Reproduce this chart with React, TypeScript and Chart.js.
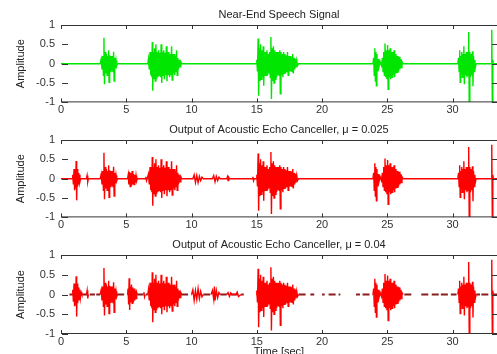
import React, { useEffect, useRef } from "react";
import { Chart, registerables } from "chart.js";

Chart.register(...registerables);

// ---------- axes / text ----------
const X_MAX = 33.4;
const X_STEP = 5;
const Y_STEP = 0.5;
const titles = [
  "Near-End Speech Signal",
  "Output of Acoustic Echo Canceller, \u03bc = 0.025",
  "Output of Acoustic Echo Canceller, \u03bc = 0.04",
];
const yLabel = "Amplitude";
const xLabel = "Time [sec]";

// ---------- near-end speech bursts (time [s], amplitude) ----------
const burstA_t = [3.0, 3.08, 3.14, 3.2, 3.25, 3.29, 3.33, 3.38, 3.43, 3.48, 3.53, 3.58, 3.62, 3.65, 3.68, 3.73, 3.78, 3.83, 3.88, 3.93, 3.98, 4.03, 4.07, 4.12, 4.17, 4.22, 4.27, 4.32];
const burstA_v = [0, 0.12, -0.15, 0.2, -0.3, 0.67, -0.53, 0.3, -0.25, 0.25, -0.3, 0.2, -0.2, 0.35, -0.48, 0.22, -0.2, 0.2, -0.18, 0.2, -0.22, 0.31, -0.45, 0.15, -0.12, 0.08, -0.05, 0];

const burstB_t = [6.65, 6.7, 6.76, 6.82, 6.88, 6.93, 6.96, 6.99, 7.03, 7.07, 7.12, 7.17, 7.22, 7.27, 7.32, 7.37, 7.42, 7.47, 7.52, 7.57, 7.62, 7.67, 7.72, 7.77, 7.82, 7.87, 7.92, 7.97, 8.02, 8.07, 8.12, 8.17, 8.22, 8.27, 8.32, 8.37, 8.42, 8.47, 8.52, 8.57, 8.62, 8.67, 8.72, 8.77, 8.81, 8.85, 8.9, 8.95, 9.0, 9.06, 9.12, 9.18, 9.25];
const burstB_v = [0, 0.12, -0.15, 0.3, -0.3, 0.25, -0.35, 0.56, -0.7, 0.3, -0.4, 0.4, -0.45, 0.5, -0.4, 0.3, -0.35, 0.35, -0.3, 0.28, -0.35, 0.5, -0.5, 0.3, -0.3, 0.35, -0.4, 0.28, -0.3, 0.45, -0.45, 0.3, -0.28, 0.3, -0.35, 0.25, -0.3, 0.45, -0.42, 0.25, -0.25, 0.25, -0.3, 0.2, -0.2, 0.35, -0.3, 0.15, -0.15, 0.1, -0.08, 0.05, 0];

const burstC_t = [14.95, 15.0, 15.05, 15.1, 15.14, 15.19, 15.24, 15.29, 15.34, 15.39, 15.44, 15.49, 15.53, 15.58, 15.63, 15.68, 15.73, 15.78, 15.83, 15.88, 15.93, 15.98, 16.03, 16.08, 16.12, 16.17, 16.22, 16.27, 16.32, 16.37, 16.42, 16.47, 16.52, 16.57, 16.62, 16.67, 16.72, 16.76, 16.8, 16.85, 16.9, 16.95, 17.0, 17.05, 17.1, 17.15, 17.2, 17.25, 17.3, 17.35, 17.4, 17.45, 17.5, 17.55, 17.6, 17.65, 17.7, 17.75, 17.8, 17.85, 17.9, 17.95, 18.0, 18.06, 18.12, 18.2];
const burstC_v = [0, 0.1, -0.2, 0.65, -0.83, 0.4, -0.45, 0.5, -0.4, 0.35, -0.35, 0.45, -0.57, 0.3, -0.3, 0.3, -0.3, 0.35, -0.3, 0.25, -0.25, 0.3, -0.35, 0.69, -0.91, 0.4, -0.45, 0.45, -0.5, 0.35, -0.4, 0.3, -0.35, 0.3, -0.3, 0.3, -0.3, 0.35, -0.78, 0.3, -0.3, 0.25, -0.35, 0.3, -0.25, 0.25, -0.25, 0.22, -0.22, 0.3, -0.3, 0.2, -0.2, 0.2, -0.2, 0.18, -0.2, 0.25, -0.25, 0.15, -0.15, 0.12, -0.1, 0.08, -0.05, 0];

const burstD_t = [23.9, 23.95, 24.0, 24.04, 24.08, 24.12, 24.16, 24.2, 24.25, 24.3, 24.36, 24.45, 24.55, 24.62, 24.67, 24.72, 24.77, 24.82, 24.87, 24.92, 24.97, 25.02, 25.06, 25.11, 25.16, 25.21, 25.26, 25.31, 25.36, 25.41, 25.46, 25.51, 25.56, 25.61, 25.66, 25.71, 25.76, 25.81, 25.86, 25.91, 25.96, 26.01, 26.06, 26.12, 26.2];
const burstD_v = [0, 0.15, -0.3, 0.4, -0.45, 0.3, -0.57, 0.25, -0.2, 0.12, -0.08, 0.05, -0.05, 0.15, -0.2, 0.3, -0.3, 0.52, -0.35, 0.35, -0.4, 0.48, -0.66, 0.35, -0.35, 0.4, -0.4, 0.3, -0.35, 0.3, -0.3, 0.35, -0.35, 0.25, -0.25, 0.2, -0.22, 0.2, -0.2, 0.18, -0.15, 0.12, -0.1, 0.05, 0];

const burstE_t = [30.4, 30.45, 30.5, 30.54, 30.58, 30.62, 30.66, 30.7, 30.74, 30.78, 30.82, 30.86, 30.9, 30.95, 31.0, 31.05, 31.1, 31.15, 31.19, 31.23, 31.27, 31.32, 31.37, 31.42, 31.47, 31.52, 31.56, 31.6, 31.65, 31.7, 31.75, 31.8];
const burstE_v = [0, 0.15, -0.2, 0.35, -0.48, 0.2, -0.25, 0.3, -0.35, 0.25, -0.2, 0.45, -0.53, 0.25, -0.3, 0.3, -0.35, 0.3, -0.3, 0.82, -0.97, 0.3, -0.35, 0.25, -0.3, 0.32, -0.58, 0.2, -0.2, 0.1, -0.08, 0];

const burstF_t = [32.95, 33.0, 33.04, 33.08, 33.12];
const burstF_v = [0, 0.88, -1.0, 0.1, 0];

// ---------- residual echo, mu = 0.025 ----------
const res025a_t = [0.85, 0.9, 0.95, 1.0, 1.04, 1.08, 1.12, 1.16, 1.2, 1.24, 1.28, 1.32, 1.36, 1.4, 1.45, 1.5];
const res025a_v = [0, 0.1, -0.15, 0.25, -0.3, 0.2, -0.25, 0.46, -0.56, 0.25, -0.2, 0.15, -0.15, 0.1, -0.08, 0];
const res025b_t = [1.95, 2.0, 2.05, 2.1];
const res025b_v = [0, 0.08, -0.08, 0];
const res025c_t = [5.1, 5.15, 5.2, 5.25, 5.3, 5.35, 5.4, 5.45, 5.5, 5.55, 5.6, 5.65, 5.7, 5.75, 5.8, 5.85];
const res025c_v = [0, 0.1, -0.15, 0.18, -0.2, 0.15, -0.18, 0.2, -0.15, 0.12, -0.15, 0.1, -0.1, 0.08, -0.05, 0];
const res025d_t = [6.45, 6.5, 6.55, 6.6];
const res025d_v = [0, 0.05, -0.05, 0];
const res025e_t = [10.1, 10.2, 10.3, 10.4, 10.5, 10.6, 10.7, 10.8, 10.9];
const res025e_v = [0, 0.1, -0.1, 0.08, -0.1, 0.06, -0.05, 0.04, 0];
const res025f_t = [11.6, 11.7, 11.8, 11.9, 12.0, 12.1, 12.2];
const res025f_v = [0, 0.08, -0.08, 0.06, -0.05, 0.04, 0];
const res025g_t = [12.7, 12.75, 12.8, 12.85, 12.9];
const res025g_v = [0, 0.05, -0.05, 0.03, 0];
const res025h_t = [14.65, 14.7, 14.75, 14.8];
const res025h_v = [0, 0.05, -0.05, 0];

// ---------- residual echo, mu = 0.04 ----------
const res04a_t = [0.85, 0.9, 0.95, 1.0, 1.04, 1.08, 1.12, 1.16, 1.2, 1.24, 1.28, 1.32, 1.37, 1.42, 1.48, 1.54, 1.6];
const res04a_v = [0, 0.12, -0.18, 0.28, -0.3, 0.22, -0.28, 0.46, -0.56, 0.28, -0.22, 0.18, -0.15, 0.12, -0.1, 0.06, 0];
const res04b_t = [1.95, 2.0, 2.05, 2.1];
const res04b_v = [0, 0.1, -0.1, 0];
const res04c_t = [5.1, 5.14, 5.18, 5.22, 5.26, 5.3, 5.35, 5.4, 5.45, 5.5, 5.55, 5.6, 5.65, 5.7, 5.75, 5.8, 5.85];
const res04c_v = [0, 0.15, -0.25, 0.41, -0.39, 0.2, -0.2, 0.25, -0.22, 0.18, -0.2, 0.15, -0.15, 0.1, -0.1, 0.05, 0];
const res04d_t = [6.3, 6.35, 6.4, 6.45];
const res04d_v = [0, 0.06, -0.06, 0];
const res04e_t = [10.0, 10.1, 10.2, 10.3, 10.4, 10.5, 10.6, 10.7, 10.8, 10.9];
const res04e_v = [0, 0.12, -0.15, 0.1, -0.12, 0.15, -0.1, 0.08, -0.06, 0];
const res04f_t = [11.5, 11.6, 11.7, 11.75, 11.8, 11.9, 12.0, 12.1, 12.2];
const res04f_v = [0, 0.1, -0.12, 0.2, -0.15, 0.1, -0.08, 0.05, 0];
const res04g_t = [12.7, 12.8, 12.9, 13.0, 13.1, 13.4, 13.5, 13.6, 13.8];
const res04g_v = [0, 0.05, -0.05, 0.04, 0, 0, 0.06, -0.05, 0];

// low-level residual noise around zero (mu = 0.04), start/end times [s]
const noise04Start = [0.65, 1.5, 2.2, 2.7, 4.3, 5.85, 6.5, 9.2, 10.9, 12.2, 13.0, 13.8, 18.2, 19.1, 20.0, 20.5, 22.6, 23.1, 26.3, 27.6, 28.4, 29.1, 31.8, 32.2, 33.1];
const noise04End = [0.9, 2.0, 2.6, 3.0, 5.1, 6.3, 6.65, 10.0, 11.5, 12.7, 13.6, 14.0, 18.8, 19.4, 20.2, 21.4, 22.9, 23.9, 26.9, 28.2, 29.0, 30.3, 32.1, 32.8, 33.4];

// ---------- colours / fonts ----------
const GREEN = "#00e600";
const RED = "#ff0000";
const DARK_RED = "#8a1c1c";
const AXIS = "#333333";
const FONT = '"Liberation Sans", Arial, Helvetica, sans-serif';

type Pt = { x: number; y: number | null };
type Burst = [number[], number[]];

const speech: Burst[] = [
  [burstA_t, burstA_v],
  [burstB_t, burstB_v],
  [burstC_t, burstC_v],
  [burstD_t, burstD_v],
  [burstE_t, burstE_v],
  [burstF_t, burstF_v],
];
const resid025: Burst[] = [
  [res025a_t, res025a_v],
  [res025b_t, res025b_v],
  [res025c_t, res025c_v],
  [res025d_t, res025d_v],
  [res025e_t, res025e_v],
  [res025f_t, res025f_v],
  [res025g_t, res025g_v],
  [res025h_t, res025h_v],
];
const resid04: Burst[] = [
  [res04a_t, res04a_v],
  [res04b_t, res04b_v],
  [res04c_t, res04c_v],
  [res04d_t, res04d_v],
  [res04e_t, res04e_v],
  [res04f_t, res04f_v],
  [res04g_t, res04g_v],
];

function buildSeries(bursts: Burst[], continuous: boolean): Pt[] {
  const sorted = [...bursts].sort((a, b) => a[0][0] - b[0][0]);
  const pts: Pt[] = [];
  if (continuous) pts.push({ x: 0, y: 0 });
  sorted.forEach(([ts, vs], i) => {
    if (!continuous && i > 0) pts.push({ x: ts[0] - 0.001, y: null });
    ts.forEach((t, j) => pts.push({ x: t, y: vs[j] }));
  });
  if (continuous) pts.push({ x: X_MAX, y: 0 });
  return pts;
}

function buildSegments(starts: number[], ends: number[]): Pt[] {
  const pts: Pt[] = [];
  starts.forEach((s, i) => {
    pts.push({ x: s, y: 0 });
    pts.push({ x: ends[i], y: 0 });
    pts.push({ x: ends[i] + 0.001, y: null });
  });
  return pts;
}

function axesPlugin(title: string, showXLabel: boolean) {
  return {
    id: "matlabAxes",
    afterDatasetsDraw(chart: any) {
      const { ctx, chartArea: a, scales } = chart;
      ctx.save();
      ctx.strokeStyle = AXIS;
      ctx.lineWidth = 1;
      ctx.beginPath();
      ctx.moveTo(a.left, a.top + 0.5);
      ctx.lineTo(a.right, a.top + 0.5);
      ctx.moveTo(a.left, a.bottom - 0.5);
      ctx.lineTo(a.right, a.bottom - 0.5);
      scales.x.ticks.forEach((t: any) => {
        const px = Math.round(scales.x.getPixelForValue(t.value)) + 0.5;
        ctx.moveTo(px, a.top);
        ctx.lineTo(px, a.top + 4);
        ctx.moveTo(px, a.bottom);
        ctx.lineTo(px, a.bottom - 4);
      });
      scales.y.ticks.forEach((t: any) => {
        const py = Math.round(scales.y.getPixelForValue(t.value)) + 0.5;
        ctx.moveTo(a.left + 1, py);
        ctx.lineTo(a.left + 7, py);
        ctx.moveTo(a.right, py);
        ctx.lineTo(a.right - 5, py);
      });
      ctx.stroke();

      ctx.fillStyle = "#222222";
      ctx.font = `11px ${FONT}`;
      ctx.textAlign = "center";
      ctx.textBaseline = "middle";
      ctx.fillText(title, (a.left + a.right) / 2, 15);

      if (showXLabel) {
        ctx.textBaseline = "top";
        ctx.fillText(xLabel, (a.left + a.right) / 2, a.bottom + 12);
      }

      ctx.translate(21, (a.top + a.bottom) / 2);
      ctx.rotate(-Math.PI / 2);
      ctx.textBaseline = "middle";
      ctx.fillText(yLabel, 0, 0);
      ctx.restore();
    },
  };
}

function makeConfig(datasets: any[], title: string, last: boolean): any {
  const tickFont = { family: FONT, size: 11 };
  return {
    type: "line",
    data: { datasets },
    options: {
      animation: false,
      responsive: false,
      maintainAspectRatio: false,
      events: [],
      layout: { padding: { top: 25, left: 0, right: 0, bottom: last ? 9 : 0 } },
      plugins: {
        legend: { display: false },
        title: { display: false },
        tooltip: { enabled: false },
      },
      elements: { point: { radius: 0 }, line: { tension: 0 } },
      scales: {
        x: {
          type: "linear",
          min: 0,
          max: X_MAX,
          grid: { display: false, drawTicks: false },
          border: { display: false },
          ticks: {
            stepSize: X_STEP,
            includeBounds: false,
            autoSkip: false,
            maxRotation: 0,
            padding: 1,
            font: tickFont,
            color: AXIS,
            callback: (v: any) => String(Number(v)),
          },
          afterFit: (s: any) => {
            s.height = 11;
          },
        },
        y: {
          type: "linear",
          min: -1,
          max: 1,
          grid: { display: false, drawTicks: false },
          border: { display: false },
          ticks: {
            stepSize: Y_STEP,
            padding: 6,
            font: tickFont,
            color: AXIS,
            callback: (v: any) => String(Number(v)),
          },
          afterFit: (s: any) => {
            s.width = 61;
          },
        },
      },
    },
    plugins: [axesPlugin(title, last)],
  };
}

function Panel({ config, top, height }: { config: any; top: number; height: number }) {
  const ref = useRef<HTMLCanvasElement | null>(null);
  useEffect(() => {
    if (!ref.current) return;
    const chart = new Chart(ref.current, config);
    return () => chart.destroy();
  }, [config]);
  return (
    <canvas
      ref={ref}
      width={497}
      height={height}
      style={{ position: "absolute", left: 0, top, width: 497, height }}
    />
  );
}

const LINE_W = 1.4;

const cfg1 = makeConfig(
  [{ data: buildSeries(speech, true), borderColor: GREEN, borderWidth: LINE_W, spanGaps: false }],
  titles[0],
  false
);
const cfg2 = makeConfig(
  [{ data: buildSeries([...speech, ...resid025], true), borderColor: RED, borderWidth: LINE_W, spanGaps: false }],
  titles[1],
  false
);
const cfg3 = makeConfig(
  [
    { data: buildSeries([...speech, ...resid04], false), borderColor: RED, borderWidth: LINE_W, spanGaps: false },
    { data: buildSegments(noise04Start, noise04End), borderColor: DARK_RED, borderWidth: 2, borderDash: [7, 3], spanGaps: false },
  ],
  titles[2],
  true
);

export default function App() {
  return (
    <div
      style={{
        position: "fixed",
        left: 0,
        top: 0,
        width: 497,
        height: 354,
        background: "#ffffff",
        overflow: "hidden",
      }}
    >
      <Panel config={cfg1} top={0} height={115} />
      <Panel config={cfg2} top={115} height={115} />
      <Panel config={cfg3} top={230} height={124} />
    </div>
  );
}
